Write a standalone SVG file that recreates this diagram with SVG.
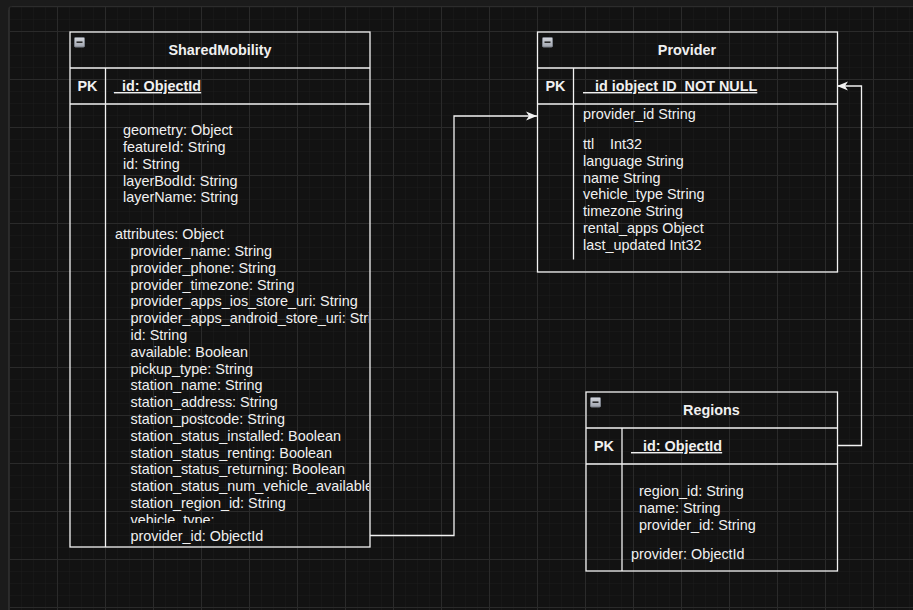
<svg xmlns="http://www.w3.org/2000/svg" width="913" height="610" viewBox="0 0 913 610">
  <defs>
    <pattern id="minor" x="9" y="7" width="12" height="12" patternUnits="userSpaceOnUse">
      <path d="M0,0 H12 M0,0 V12" fill="none" stroke="#1b1b1b" stroke-width="1"/>
    </pattern>
    <pattern id="major" x="9" y="31" width="48" height="48" patternUnits="userSpaceOnUse">
      <path d="M0,0.5 H48 M0.5,0 V48" fill="none" stroke="#2a2a2a" stroke-width="1"/>
    </pattern>
    <linearGradient id="iconGrad" x1="0" y1="0" x2="0" y2="1">
      <stop offset="0" stop-color="#d4d7dd"/>
      <stop offset="1" stop-color="#9ea3ad"/>
    </linearGradient>
    <marker id="arrow" markerUnits="userSpaceOnUse" markerWidth="12" markerHeight="10" viewBox="0 0 12 10" refX="11" refY="5" orient="auto">
      <path d="M0,0.5 L11,5 L0,9.5 L3,5 Z" fill="#f2f2f2"/>
    </marker>
    <clipPath id="clipSM">
      <rect x="106" y="104" width="263" height="419"/>
    </clipPath>
    <g id="icon">
      <rect x="0.5" y="0.5" width="10" height="9.5" rx="1" fill="url(#iconGrad)" stroke="#7c818a" stroke-width="1"/>
      <line x1="2.5" y1="5.2" x2="8.5" y2="5.2" stroke="#2a2a2a" stroke-width="1.6"/>
    </g>
  </defs>
  <style>
    .box { fill: none; stroke: #f2f2f2; stroke-width: 1.3; }
    .t { font-family: "Liberation Sans", Arial, Helvetica, sans-serif; font-size: 14.4px; fill: #f0f0f0; white-space: pre; }
    .b { font-weight: bold; }
    .mid { text-anchor: middle; }
    .u { text-decoration: underline; }
    .conn { fill: none; stroke: #f2f2f2; stroke-width: 1.3; }
  </style>

  <rect x="0" y="0" width="913" height="610" fill="#1b1b1b"/>
  <rect x="8.5" y="6.5" width="910" height="610" rx="3" fill="#121212" stroke="#2c2c2c" stroke-width="1"/>
  <rect x="9" y="7" width="904" height="603" fill="url(#minor)"/>
  <rect x="9" y="7" width="904" height="603" fill="url(#major)"/>

  <g id="connectors">
    <polyline class="conn" points="370,535.5 454,535.5 454,116 537,116" marker-end="url(#arrow)"/>
    <polyline class="conn" points="837,445.5 861.5,445.5 861.5,86 837,86" marker-end="url(#arrow)"/>
  </g>

  <g id="SharedMobility">
    <rect class="box" x="70" y="32" width="300" height="515"/>
    <line class="box" x1="70" y1="68" x2="370" y2="68"/>
    <line class="box" x1="70" y1="104" x2="370" y2="104"/>
    <line class="box" x1="105.5" y1="68" x2="105.5" y2="547"/>
    <use href="#icon" x="74" y="37"/>
    <text class="t b mid" x="220" y="55">SharedMobility</text>
    <text class="t b mid" x="87.5" y="91">PK</text>
    <text class="t b u" x="114" y="91">_id: ObjectId</text>
    <g clip-path="url(#clipSM)">
      <text class="t" x="123" y="135.2">geometry: Object</text>
      <text class="t" x="123" y="152">featureId: String</text>
      <text class="t" x="123" y="168.8">id: String</text>
      <text class="t" x="123" y="185.6">layerBodId: String</text>
      <text class="t" x="123" y="202.4">layerName: String</text>
      <text class="t" x="115" y="239.2">attributes: Object</text>
      <text class="t" x="130.5" y="256">provider_name: String</text>
      <text class="t" x="130.5" y="272.8">provider_phone: String</text>
      <text class="t" x="130.5" y="289.6">provider_timezone: String</text>
      <text class="t" x="130.5" y="306.4">provider_apps_ios_store_uri: String</text>
      <text class="t" x="130.5" y="323.2">provider_apps_android_store_uri: String</text>
      <text class="t" x="130.5" y="340">id: String</text>
      <text class="t" x="130.5" y="356.8">available: Boolean</text>
      <text class="t" x="130.5" y="373.6">pickup_type: String</text>
      <text class="t" x="130.5" y="390.4">station_name: String</text>
      <text class="t" x="130.5" y="407.2">station_address: String</text>
      <text class="t" x="130.5" y="424">station_postcode: String</text>
      <text class="t" x="130.5" y="440.8">station_status_installed: Boolean</text>
      <text class="t" x="130.5" y="457.6">station_status_renting: Boolean</text>
      <text class="t" x="130.5" y="474.4">station_status_returning: Boolean</text>
      <text class="t" x="130.5" y="491.2">station_status_num_vehicle_available: Int32</text>
      <text class="t" x="130.5" y="508">station_region_id: String</text>
      <text class="t" x="130.5" y="524.8">vehicle_type:</text>
    </g>
    <text class="t" x="130.5" y="540.5">provider_id: ObjectId</text>
  </g>

  <g id="Provider">
    <rect class="box" x="537.5" y="32" width="300" height="240"/>
    <line class="box" x1="537.5" y1="68" x2="837.5" y2="68"/>
    <line class="box" x1="537.5" y1="104" x2="837.5" y2="104"/>
    <line class="box" x1="573.5" y1="68" x2="573.5" y2="259.5"/>
    <use href="#icon" x="542" y="37"/>
    <text class="t b mid" x="687" y="55">Provider</text>
    <text class="t b mid" x="555.5" y="91">PK</text>
    <text class="t b u" x="583" y="91"> _id iobject ID  NOT NULL</text>
    <text class="t" x="583" y="118.7">provider_id String</text>
    <text class="t" x="583" y="148.9">ttl<tspan x="610">Int32</tspan></text>
    <text class="t" x="583" y="165.7">language String</text>
    <text class="t" x="583" y="182.5">name String</text>
    <text class="t" x="583" y="199.3">vehicle_type String</text>
    <text class="t" x="583" y="216.1">timezone String</text>
    <text class="t" x="583" y="232.9">rental_apps Object</text>
    <text class="t" x="583" y="249.7">last_updated Int32</text>
  </g>

  <g id="Regions">
    <rect class="box" x="586" y="392" width="251.5" height="179"/>
    <line class="box" x1="586" y1="428" x2="837.5" y2="428"/>
    <line class="box" x1="586" y1="464" x2="837.5" y2="464"/>
    <line class="box" x1="622" y1="428" x2="622" y2="571"/>
    <use href="#icon" x="590" y="397"/>
    <text class="t b mid" x="711.5" y="415">Regions</text>
    <text class="t b mid" x="604" y="451">PK</text>
    <text class="t b u" x="631" y="451"> _id: ObjectId</text>
    <text class="t" x="639" y="496.3">region_id: String</text>
    <text class="t" x="639" y="513.1">name: String</text>
    <text class="t" x="639" y="529.9">provider_id: String</text>
    <text class="t" x="631" y="558.8">provider: ObjectId</text>
  </g>
</svg>
